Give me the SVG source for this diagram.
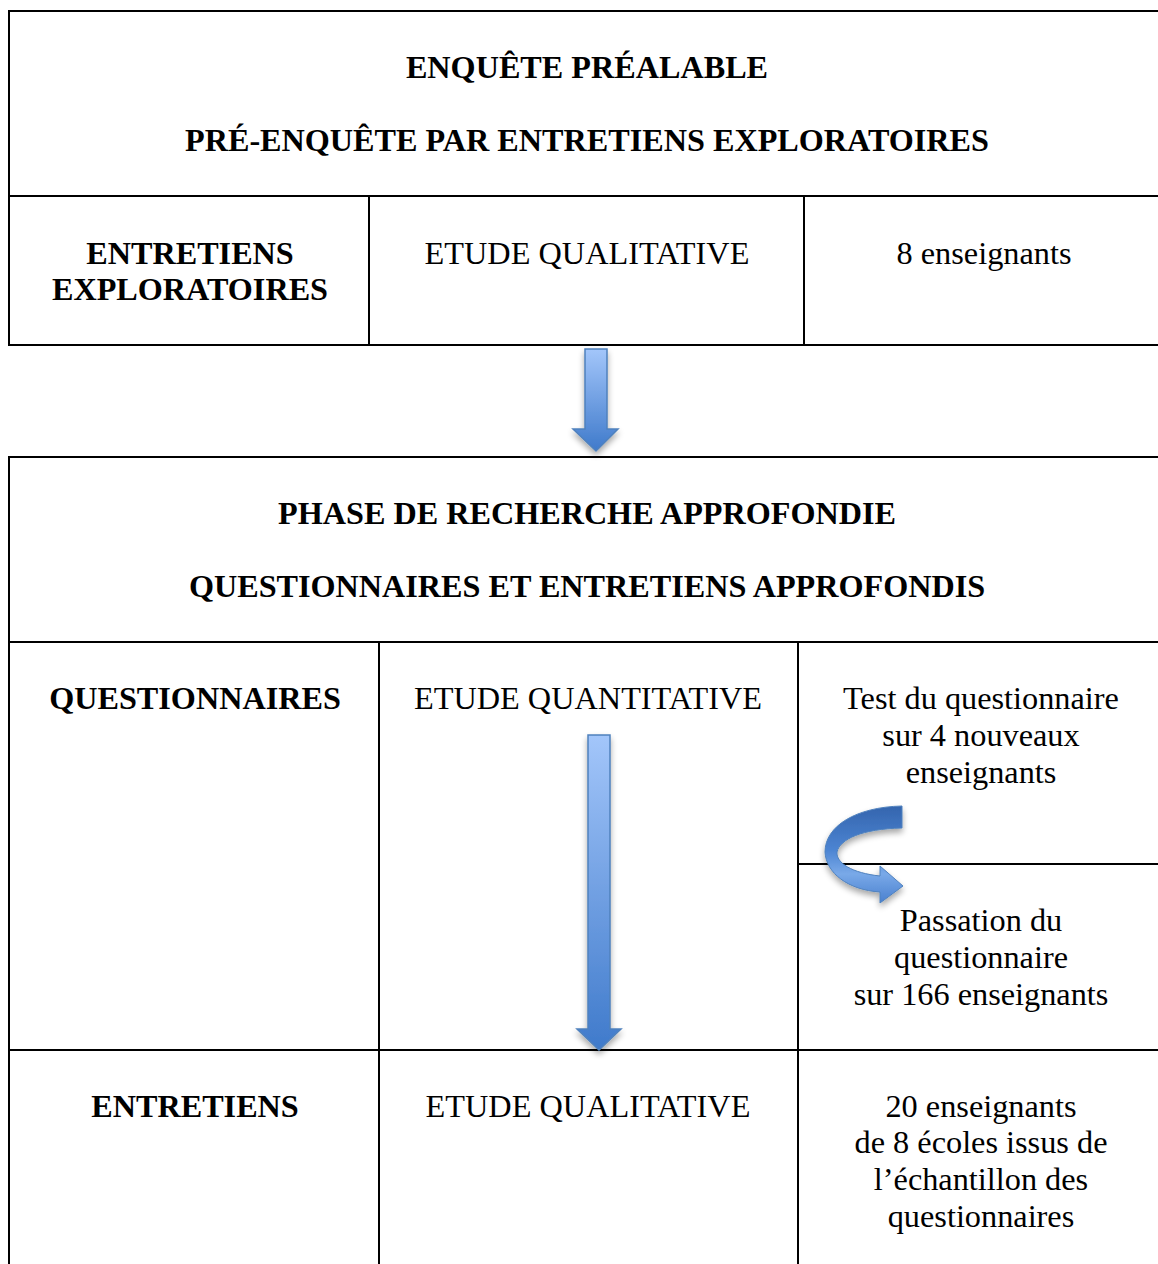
<svg xmlns="http://www.w3.org/2000/svg" width="1158" height="1264" viewBox="0 0 1158 1264">
<style>
.ln{stroke:#000;stroke-width:2;fill:none}
.b{font-family:"Liberation Serif","Times New Roman",serif;font-weight:bold;font-size:32.2px;fill:#000;text-anchor:middle}
.r{font-family:"Liberation Serif","Times New Roman",serif;font-size:32.3px;fill:#000;text-anchor:middle}
.arr{fill:url(#gArr);stroke:#4F81BD;stroke-width:1.5;filter:url(#sh)}
</style>
<defs>
<linearGradient id="gArr" x1="0" y1="0" x2="0" y2="1">
<stop offset="0" stop-color="#A3C6FA"/>
<stop offset="1" stop-color="#3F7ACB"/>
</linearGradient>
<linearGradient id="gCurve" x1="0" y1="0" x2="0" y2="1">
<stop offset="0" stop-color="#3465AE"/>
<stop offset="0.45" stop-color="#4C84D2"/>
<stop offset="0.7" stop-color="#79A9E8"/>
<stop offset="1" stop-color="#4A80CF"/>
</linearGradient>
<filter id="sh" x="-50%" y="-20%" width="200%" height="150%">
<feGaussianBlur in="SourceAlpha" stdDeviation="3"/>
<feOffset dx="0" dy="4" result="o"/>
<feComponentTransfer><feFuncA type="linear" slope="0.35"/></feComponentTransfer>
<feMerge><feMergeNode/><feMergeNode in="SourceGraphic"/></feMerge>
</filter>
</defs>

<g id="table1">
<line class="ln" x1="9" y1="11" x2="1160" y2="11"/>
<line class="ln" x1="9" y1="10" x2="9" y2="346"/>
<line class="ln" x1="9" y1="196" x2="1160" y2="196"/>
<line class="ln" x1="9" y1="345" x2="1160" y2="345"/>
<line class="ln" x1="369" y1="196" x2="369" y2="345"/>
<line class="ln" x1="804" y1="196" x2="804" y2="345"/>
</g>
<g id="t1-title">
<text class="b" x="587" y="78">ENQUÊTE PRÉALABLE</text>
<text class="b" x="587" y="151">PRÉ-ENQUÊTE PAR ENTRETIENS EXPLORATOIRES</text>
</g>
<g id="t1-c1">
<text class="b" x="190" y="264">ENTRETIENS</text>
<text class="b" x="190" y="300">EXPLORATOIRES</text>
</g>
<g id="t1-c2"><text class="r" x="587" y="264">ETUDE QUALITATIVE</text></g>
<g id="t1-c3"><text class="r" x="984" y="264">8 enseignants</text></g>

<g id="table2">
<line class="ln" x1="9" y1="457" x2="1160" y2="457"/>
<line class="ln" x1="9" y1="456" x2="9" y2="1266"/>
<line class="ln" x1="9" y1="642" x2="1160" y2="642"/>
<line class="ln" x1="9" y1="1050" x2="1160" y2="1050"/>
<line class="ln" x1="379" y1="642" x2="379" y2="1266"/>
<line class="ln" x1="798" y1="642" x2="798" y2="1266"/>
<line class="ln" x1="798" y1="864" x2="1160" y2="864"/>
</g>
<g id="t2-title">
<text class="b" x="587" y="524">PHASE DE RECHERCHE APPROFONDIE</text>
<text class="b" x="587" y="597">QUESTIONNAIRES ET ENTRETIENS APPROFONDIS</text>
</g>
<g id="t2-r1c1"><text class="b" x="195" y="709">QUESTIONNAIRES</text></g>
<g id="t2-r1c2"><text class="r" x="588" y="709">ETUDE QUANTITATIVE</text></g>
<g id="t2-r1c3a">
<text class="r" x="981" y="709">Test du questionnaire</text>
<text class="r" x="981" y="746">sur 4 nouveaux</text>
<text class="r" x="981" y="783">enseignants</text>
</g>
<g id="t2-r1c3b">
<text class="r" x="981" y="931">Passation du</text>
<text class="r" x="981" y="968">questionnaire</text>
<text class="r" x="981" y="1005">sur 166 enseignants</text>
</g>
<g id="t2-r2c1"><text class="b" x="195" y="1117">ENTRETIENS</text></g>
<g id="t2-r2c2"><text class="r" x="588" y="1117">ETUDE QUALITATIVE</text></g>
<g id="t2-r2c3">
<text class="r" x="981" y="1117">20 enseignants</text>
<text class="r" x="981" y="1153">de 8 écoles issus de</text>
<text class="r" x="981" y="1190">l’échantillon des</text>
<text class="r" x="981" y="1227">questionnaires</text>
</g>

<g id="connectors">
<path class="arr" d="M585 349 H607 V429 H618 L596 451 L573 429 H585 Z"/>
<path class="arr" d="M588 735 H610 V1029 H621 L599 1050 L577 1029 H588 Z"/>
<path fill="url(#gCurve)" stroke="#4F81BD" stroke-width="1" filter="url(#sh)" d="M902 806 L902 828 C862 829 840 839 837 852 C836 863 852 873 880 876 L880 866 L903 886 L880 903 L880 892 C848 890 826 873 825 852 C825 826 856 807 902 806 Z"/>
</g>
</svg>
